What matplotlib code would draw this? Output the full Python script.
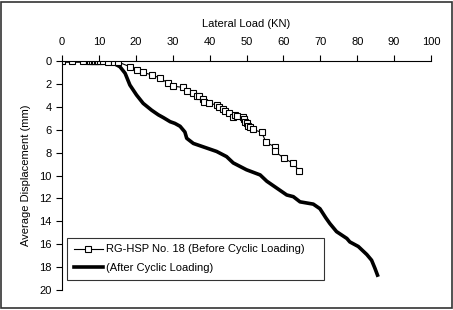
import matplotlib
matplotlib.use("Agg")
import matplotlib.pyplot as plt
from matplotlib.patches import Rectangle

plt.rcParams['font.family'] = ['Liberation Sans', 'DejaVu Sans']

# Before cyclic loading (squares)
before_x = [0, 2.6, 5.8, 7.2, 7.7, 8.2, 8.6, 9.0, 9.4, 9.8, 10.3, 11.0, 12.5, 14.0, 15.3, 18.4,
            20.4, 21.9, 24.3, 26.6, 28.6, 30.1, 32.7, 34.0, 35.4, 36.5, 37.2, 38.3, 38.5,
            39.9, 42.1, 42.6, 43.5, 44.2, 45.3, 46.3, 46.8, 47.3, 49.0, 49.3, 49.6, 50.0,
            50.5, 50.9, 51.7, 54.1, 55.3, 57.7, 57.7, 60.2, 62.7, 64.3]
before_y = [0, 0, 0, 0, 0, 0, 0, 0, 0, 0, 0, 0.02, 0.05, 0.08, 0.1, 0.5,
            0.79, 1.0, 1.2, 1.5, 1.9, 2.2, 2.3, 2.6, 2.82, 3.06, 3.1, 3.35, 3.55,
            3.7, 3.84, 4.04, 4.2, 4.4, 4.57, 4.86, 4.7, 4.8, 4.9, 5.1, 5.3, 5.45,
            5.7, 5.74, 5.97, 6.23, 7.1, 7.5, 7.9, 8.5, 8.95, 9.6]

# After cyclic loading (thick line)
after_x = [0, 5, 10, 12, 14, 15.7, 17.1, 18.4, 20.2, 22.0, 24.3, 26.1, 27.5, 29.3, 30.6, 32.0,
           33.3, 33.8, 35.6, 39.2, 41.9, 44.6, 46.4, 50.0, 53.7, 55.5, 58.2, 60.9, 62.7,
           64.5, 68.1, 69.9, 71.5, 72.6, 74.4, 77.2, 78.0, 80.3, 82.6, 83.9, 84.8, 85.5]
after_y = [0, 0, 0.05, 0.1, 0.2, 0.5, 1.07, 2.1, 2.97, 3.7, 4.3, 4.7, 4.95, 5.3, 5.45, 5.7,
           6.2, 6.75, 7.2, 7.6, 7.9, 8.35, 8.9, 9.5, 9.95, 10.5, 11.1, 11.7, 11.85,
           12.3, 12.5, 12.9, 13.7, 14.2, 14.9, 15.5, 15.8, 16.2, 16.9, 17.4, 18.1, 18.7]

x_ticks = list(range(0, 101, 10))
y_ticks = list(range(0, 21, 2))

fig = plt.figure(figsize=(4.53, 3.10), dpi=100)
ax = fig.add_axes([62/453, 1 - 290/310, (431 - 62)/453, (290 - 61)/310])

ax.plot(before_x, before_y, color='black', lw=0.8, marker='s', markersize=4.0,
        markerfacecolor='white', markeredgecolor='black', markeredgewidth=0.8,
        label='RG-HSP No. 18 (Before Cyclic Loading)')
ax.plot(after_x, after_y, color='black', lw=2.6, label='(After Cyclic Loading)', zorder=1)

ax.set_xlim(0, 100)
ax.set_ylim(20, 0)
ax.set_xticks(x_ticks)
ax.set_yticks(y_ticks)
ax.xaxis.tick_top()
ax.xaxis.set_label_position('top')
ax.set_xlabel('Lateral Load (KN)', fontsize=8, labelpad=7)
ax.set_ylabel('Average Displacement (mm)', fontsize=8, labelpad=6)
ax.tick_params(axis='both', labelsize=8, direction='out', length=4, width=0.8, color='black')
ax.tick_params(axis='x', pad=6)
for s in ['right', 'bottom']:
    ax.spines[s].set_visible(False)
for s in ['left', 'top']:
    ax.spines[s].set_linewidth(0.8)

leg = ax.legend(loc='lower left', bbox_to_anchor=(67/453, 1 - 280/310, 257/453, 45/310),
                bbox_transform=fig.transFigure, mode='expand', fontsize=8, numpoints=1,
                frameon=True, fancybox=False, handlelength=2.6, borderpad=0.6,
                labelspacing=0.8, handletextpad=0.3, borderaxespad=0)
leg.get_frame().set_edgecolor('black')
leg.get_frame().set_linewidth(0.8)

fig.patches.append(Rectangle((0.003, 0.005), 0.994, 0.99, transform=fig.transFigure,
                             fill=False, edgecolor='#333333', linewidth=1.2))

fig.savefig('out.png', dpi=100)
